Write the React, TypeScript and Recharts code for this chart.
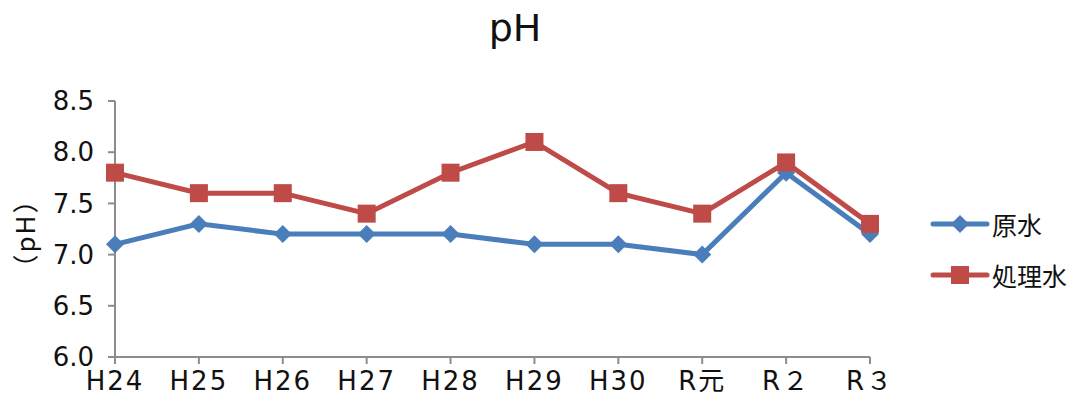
import { LineChart, Line, XAxis, YAxis } from "recharts"

const categories = ["H24", "H25", "H26", "H27", "H28", "H29", "H30", "R元", "R２", "R３"]
const rawWater = [7.1, 7.3, 7.2, 7.2, 7.2, 7.1, 7.1, 7.0, 7.8, 7.2]
const treatedWater = [7.8, 7.6, 7.6, 7.4, 7.8, 8.1, 7.6, 7.4, 7.9, 7.3]
const yTicks = [6.0, 6.5, 7.0, 7.5, 8.0, 8.5]
const seriesNames = ["原水", "処理水"]

const BLUE = "#4A7EBB"
const RED = "#BE4B48"
const AXIS = "#8C8C8C"
const FONT = "'Noto Sans CJK JP', 'Noto Sans', sans-serif"
const TICK_FONT = "'DejaVu Sans', 'Noto Sans CJK JP', sans-serif"

const data = categories.map((name, i) => ({
  name,
  raw: rawWater[i],
  treated: treatedWater[i],
}))

function Diamond(props: any) {
  const { cx, cy, fill } = props
  if (cx == null || cy == null) return null
  const r = 9
  return <path d={`M${cx},${cy - r}L${cx + r},${cy}L${cx},${cy + r}L${cx - r},${cy}Z`} fill={fill} />
}

function Square(props: any) {
  const { cx, cy, fill } = props
  if (cx == null || cy == null) return null
  const s = 9
  return <rect x={cx - s} y={cy - s} width={s * 2} height={s * 2} fill={fill} />
}

function ChartLegend() {
  const items = [
    { label: seriesNames[0], color: BLUE, marker: "diamond" },
    { label: seriesNames[1], color: RED, marker: "square" },
  ]
  return (
    <div style={{ position: "absolute", left: 930, top: 198, fontFamily: FONT }}>
      {items.map((it) => (
        <div key={it.label} style={{ display: "flex", alignItems: "center", height: 51 }}>
          <svg width={60} height={24}>
            <line x1={3} y1={12} x2={57} y2={12} stroke={it.color} strokeWidth={5} strokeLinecap="round" />
            {it.marker === "diamond" ? (
              <path d="M30,3L39,12L30,21L21,12Z" fill={it.color} />
            ) : (
              <rect x={21} y={3} width={18} height={18} fill={it.color} />
            )}
          </svg>
          <span style={{ fontSize: 25, color: "#111", marginLeft: 2 }}>{it.label}</span>
        </div>
      ))}
    </div>
  )
}

export default function App() {
  return (
    <div style={{ position: "absolute", left: 0, top: 0, width: 1074, height: 407, background: "#fff", fontFamily: FONT }}>
      <div
        style={{
          position: "absolute",
          left: 0,
          width: 1030,
          top: 6,
          textAlign: "center",
          fontSize: 38,
          fontFamily: TICK_FONT,
          color: "#111",
        }}
      >
        pH
      </div>
      <div
        style={{
          position: "absolute",
          left: 23,
          top: 233,
          transform: "translate(-50%, -50%) rotate(-90deg)",
          fontSize: 26,
          color: "#111",
          whiteSpace: "nowrap",
          letterSpacing: 2,
        }}
      >
        （pH）
      </div>
      <LineChart width={1074} height={407} data={data} margin={{ top: 101, right: 204, bottom: 0, left: 0 }}>
        <XAxis
          dataKey="name"
          stroke={AXIS}
          strokeWidth={2}
          tickSize={7}
          tickMargin={8}
          height={50}
          interval={0}
          tick={{ fill: "#111", fontSize: 26, fontFamily: TICK_FONT, letterSpacing: 2 }}
        />
        <YAxis
          domain={[6, 8.5]}
          ticks={yTicks}
          width={115}
          stroke={AXIS}
          strokeWidth={2}
          tickSize={7}
          tickMargin={14}
          tickFormatter={(v: number) => v.toFixed(1)}
          tick={{ fill: "#111", fontSize: 26, fontFamily: TICK_FONT }}
        />
        <Line
          dataKey="raw"
          name={seriesNames[0]}
          stroke={BLUE}
          strokeWidth={5}
          dot={<Diamond fill={BLUE} />}
          activeDot={false}
          isAnimationActive={false}
        />
        <Line
          dataKey="treated"
          name={seriesNames[1]}
          stroke={RED}
          strokeWidth={5}
          dot={<Square fill={RED} />}
          activeDot={false}
          isAnimationActive={false}
        />
      </LineChart>
      <ChartLegend />
    </div>
  )
}
